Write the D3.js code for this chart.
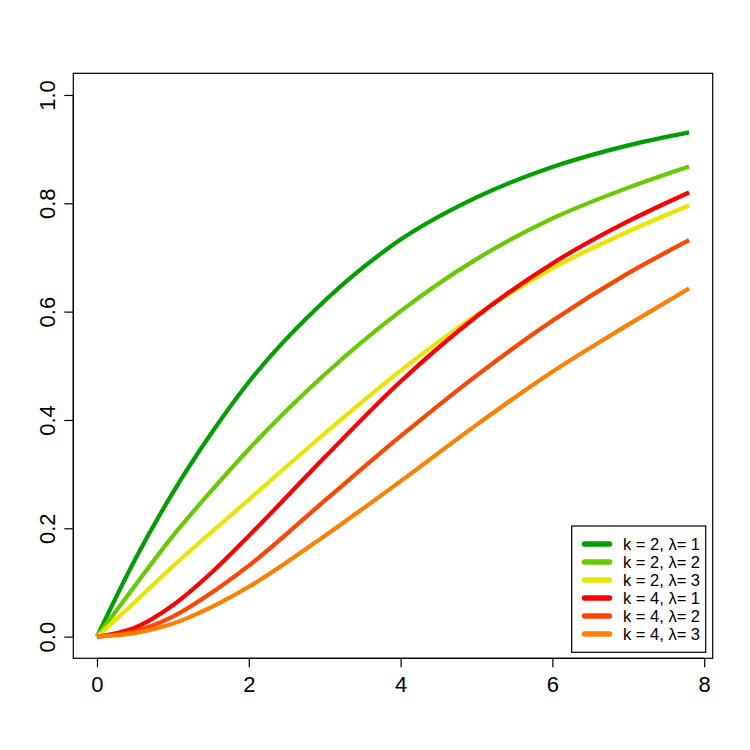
<!DOCTYPE html>
<html>
<head>
<meta charset="utf-8">
<script src="https://cdn.jsdelivr.net/npm/d3@7"></script>
<style>
  html, body { margin: 0; padding: 0; background: #fff; }
  svg { display: block; font-family: "Liberation Sans", Arial, sans-serif; }
</style>
</head>
<body>
<svg id="chart" width="750" height="750"></svg>
<script>
// x positions at which the curves were read
const xs = [0, 0.5, 1, 1.5, 2, 3, 4, 5, 6, 7, 7.8];

// series values
const k2l1 = [0, 0.142, 0.266, 0.374, 0.470, 0.620, 0.733, 0.811, 0.867, 0.907, 0.931];
const k2l2 = [0, 0.094, 0.186, 0.268, 0.346, 0.484, 0.601, 0.697, 0.772, 0.829, 0.868];
const k2l3 = [0, 0.064, 0.130, 0.192, 0.253, 0.375, 0.491, 0.594, 0.680, 0.748, 0.796];
const k4l1 = [0, 0.0165, 0.058, 0.117, 0.186, 0.331, 0.471, 0.591, 0.689, 0.767, 0.820];
const k4l2 = [0, 0.010, 0.037, 0.080, 0.131, 0.251, 0.370, 0.482, 0.583, 0.671, 0.732];
const k4l3 = [0, 0.0065, 0.024, 0.054, 0.092, 0.186, 0.287, 0.391, 0.489, 0.576, 0.643];

const seriesLabels = ["k = 2, λ= 1", "k = 2, λ= 2", "k = 2, λ= 3", "k = 4, λ= 1", "k = 4, λ= 2", "k = 4, λ= 3"];
const seriesColors = ["#00A000", "#66CC00", "#E6E600", "#FF0000", "#FF4500", "#FF8000"];
const seriesValues = [k2l1, k2l2, k2l3, k4l1, k4l2, k4l3];

const xTicks = [0, 2, 4, 6, 8];
const yTicks = [0, 0.2, 0.4, 0.6, 0.8, 1.0];

// plot region (R-style 4% padding)
const L = 73.3, R = 712.7, T = 73.3, B = 658.3;
const xMin = 0, xMax = 7.8, yMin = 0, yMax = 1;
const xPad = (xMax - xMin) * 0.04, yPad = (yMax - yMin) * 0.04;

const svg = d3.select("#chart");
const x = d3.scaleLinear().domain([xMin - xPad, xMax + xPad]).range([L, R]);
const y = d3.scaleLinear().domain([yMin - yPad, yMax + yPad]).range([B, T]);

// curves
const line = d3.line()
  .x(d => x(d[0]))
  .y(d => y(d[1]))
  .curve(d3.curveMonotoneX);

seriesValues.forEach((vals, i) => {
  svg.append("path")
    .datum(xs.map((v, j) => [v, vals[j]]))
    .attr("d", line)
    .attr("fill", "none")
    .attr("stroke", seriesColors[i])
    .attr("stroke-width", 4.2)
    .attr("stroke-linejoin", "round");
});

// frame
svg.append("rect")
  .attr("x", L).attr("y", T)
  .attr("width", R - L).attr("height", B - T)
  .attr("fill", "none").attr("stroke", "#000").attr("stroke-width", 1.2);

// x axis
const xAxis = d3.axisBottom(x).tickValues(xTicks).tickSize(9).tickPadding(3).tickFormat(d3.format("d"));
const gx = svg.append("g").attr("transform", `translate(0,${B})`).call(xAxis);
gx.select(".domain").attr("d", `M${x(xTicks[0])},0H${x(xTicks[xTicks.length - 1])}`).attr("stroke-width", 1.2);
gx.selectAll(".tick line").attr("stroke-width", 1.2);
gx.selectAll(".tick text")
  .attr("font-family", "Liberation Sans, Arial, sans-serif")
  .attr("font-size", 22)
  .attr("fill", "#000")
  .attr("dy", null)
  .attr("y", 34);

// y axis
const yAxis = d3.axisLeft(y).tickValues(yTicks).tickSize(9).tickFormat(d3.format(".1f"));
const gy = svg.append("g").attr("transform", `translate(${L},0)`).call(yAxis);
gy.select(".domain").attr("d", `M0,${y(yTicks[0])}V${y(yTicks[yTicks.length - 1])}`).attr("stroke-width", 1.2);
gy.selectAll(".tick line").attr("stroke-width", 1.2);
gy.selectAll(".tick text")
  .attr("font-family", "Liberation Sans, Arial, sans-serif")
  .attr("font-size", 22)
  .attr("fill", "#000")
  .attr("x", null).attr("dy", null)
  .attr("text-anchor", "middle")
  .attr("transform", "translate(-18.3,0) rotate(-90)");

// legend
const lg = svg.append("g");
const lx0 = 571.7, ly0 = 526, lw = 134, lh = 126.3;
lg.append("rect")
  .attr("x", lx0).attr("y", ly0).attr("width", lw).attr("height", lh)
  .attr("fill", "#fff").attr("stroke", "#000").attr("stroke-width", 1.2);
seriesLabels.forEach((lab, i) => {
  const cy = 544 + i * 18;
  lg.append("line")
    .attr("x1", 584.5).attr("x2", 609.5)
    .attr("y1", cy).attr("y2", cy)
    .attr("stroke", seriesColors[i]).attr("stroke-width", 5.3)
    .attr("stroke-linecap", "round");
  lg.append("text")
    .attr("x", 623).attr("y", cy + 6)
    .attr("font-size", 16.5)
    .attr("fill", "#000")
    .text(lab);
});
</script>
</body>
</html>
